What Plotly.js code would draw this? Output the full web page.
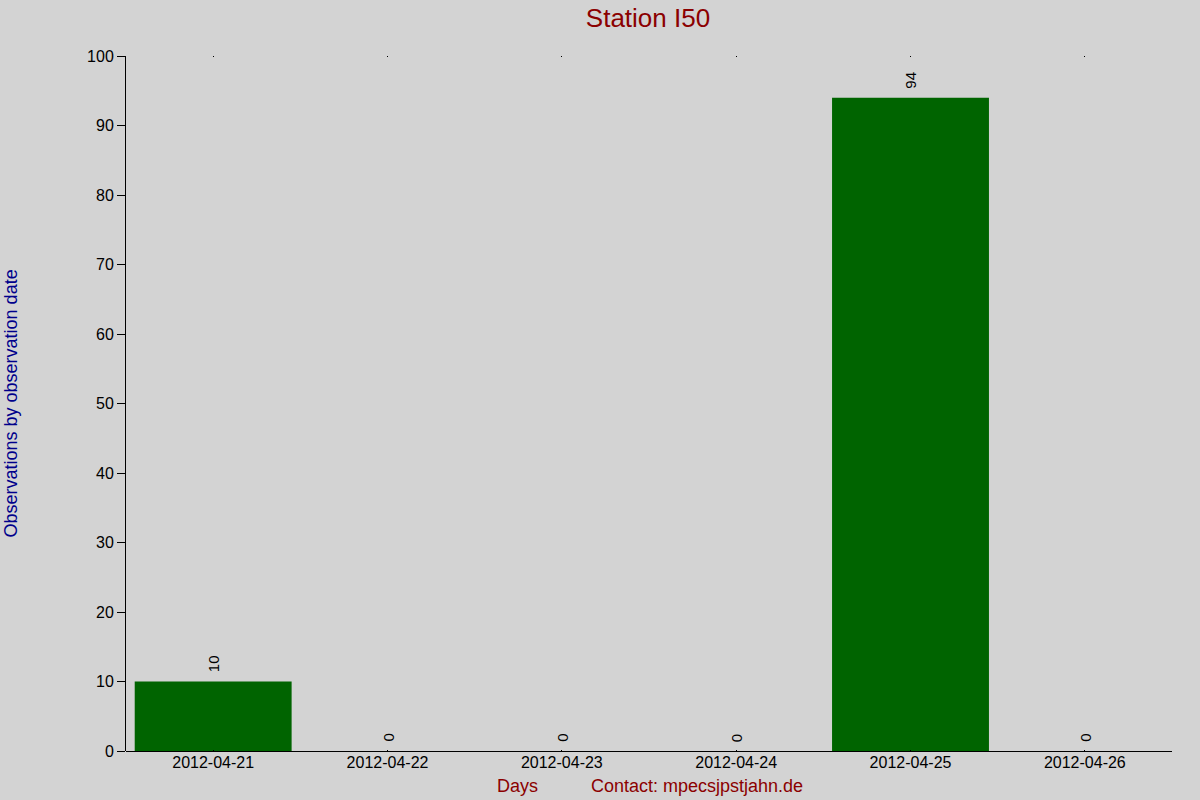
<!DOCTYPE html>
<html>
<head>
<meta charset="utf-8">
<script src="https://cdn.plot.ly/plotly-3.0.1.min.js"></script>
<style>
  body { margin: 0; padding: 0; background: #d3d3d3; }
  #chart { width: 1200px; height: 800px; }
</style>
</head>
<body>
<div id="chart"></div>
<script>
// observations per day, station I50
var days = ['2012-04-21', '2012-04-22', '2012-04-23', '2012-04-24', '2012-04-25', '2012-04-26'];
var counts = [10, 0, 0, 0, 94, 0];
var yTicks = [0, 10, 20, 30, 40, 50, 60, 70, 80, 90, 100];

var font = 'Liberation Sans, Arial, sans-serif';

var bars = {
    x: days,
    y: counts,
    type: 'bar',
    width: 0.9,
    marker: {color: '#006400', line: {width: 0}},
    hoverinfo: 'x+y'
};

// value labels, rotated, sitting a little above each bar
var valueLabels = days.map(function (d, i) {
    return {
        x: d, y: counts[i],
        xref: 'x', yref: 'y',
        text: String(counts[i]),
        textangle: -90,
        xanchor: 'center', yanchor: 'bottom',
        yshift: 7,
        showarrow: false,
        font: {family: font, size: 15, color: '#000000'}
    };
});

var layout = {
    width: 1200,
    height: 800,
    paper_bgcolor: '#d3d3d3',
    plot_bgcolor: '#d3d3d3',
    margin: {l: 126, r: 28, t: 56, b: 49},
    showlegend: false,
    font: {family: font, size: 16, color: '#000000'},
    title: {
        text: 'Station I50',
        font: {family: font, size: 26, color: '#8b0000'},
        x: 0.54, xanchor: 'center',
        y: 1 - 18 / 800, yanchor: 'middle'
    },
    xaxis: {
        type: 'category',
        range: [-0.5, 5.5],
        showgrid: false,
        showline: false,
        zeroline: false,
        ticks: 'inside',
        ticklen: 1,
        tickcolor: '#000000',
        mirror: 'ticks',
        tickfont: {family: font, size: 16, color: '#000000'}
    },
    yaxis: {
        range: [0, 100],
        tickvals: yTicks,
        showgrid: false,
        showline: true,
        linecolor: '#000000',
        linewidth: 1,
        zeroline: true,
        zerolinecolor: '#000000',
        zerolinewidth: 1,
        ticks: 'outside',
        ticklen: 8,
        tickcolor: '#000000',
        tickfont: {family: font, size: 16, color: '#000000'}
    },
    annotations: valueLabels.concat([
        {
            text: 'Observations by observation date',
            xref: 'paper', yref: 'paper',
            x: -116 / 1046, y: 0.5,
            xanchor: 'center', yanchor: 'middle',
            textangle: -90, showarrow: false,
            font: {family: font, size: 18, color: '#00008b'}
        },
        {
            text: 'Days',
            xref: 'paper', yref: 'paper',
            x: (517 - 126) / 1046, y: -35 / 695,
            xanchor: 'center', yanchor: 'middle',
            showarrow: false,
            font: {family: font, size: 18, color: '#8b0000'}
        },
        {
            text: 'Contact: mpecsjpstjahn.de',
            xref: 'paper', yref: 'paper',
            x: (589 - 126) / 1046, y: -35 / 695,
            xanchor: 'left', yanchor: 'middle',
            showarrow: false,
            font: {family: font, size: 18, color: '#8b0000'}
        }
    ])
};

Plotly.newPlot('chart', [bars], layout, {displayModeBar: false, staticPlot: true});
</script>
</body>
</html>
